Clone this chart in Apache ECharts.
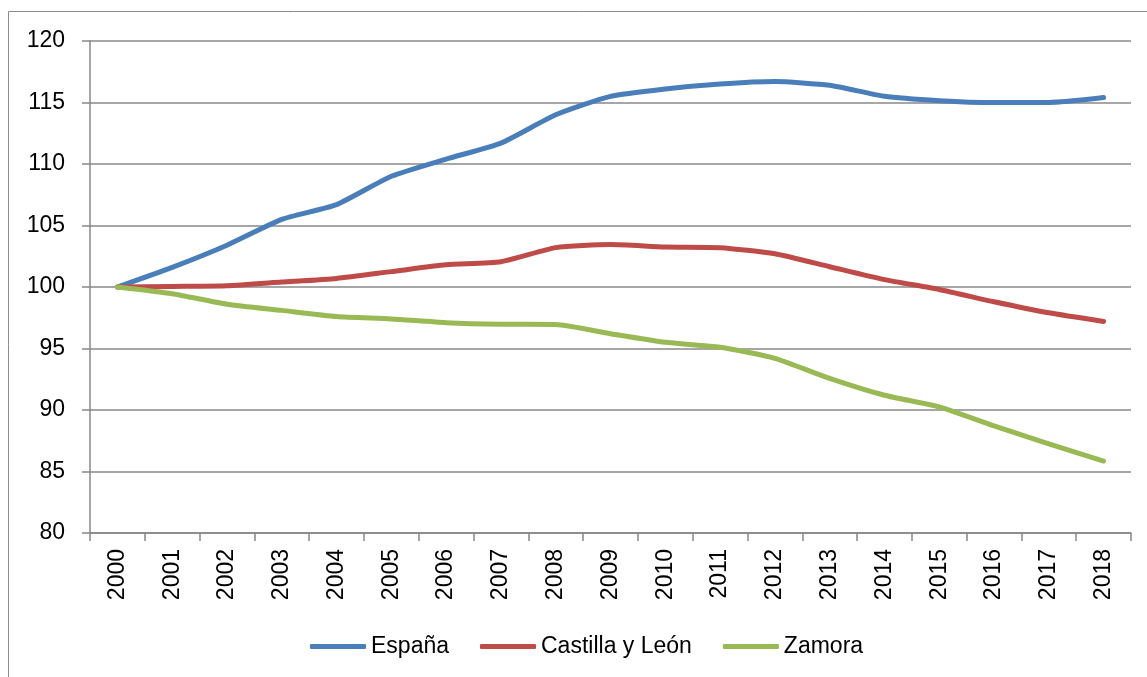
<!DOCTYPE html>
<html>
<head>
<meta charset="utf-8">
<script src="https://cdn.jsdelivr.net/npm/echarts@6/dist/echarts.min.js"></script>
<style>html,body{margin:0;padding:0;background:#fff;}#c{width:1147px;height:677px;}</style>
</head>
<body>
<div id="c"></div>
<script>
const years = ['2000','2001','2002','2003','2004','2005','2006','2007','2008','2009','2010','2011','2012','2013','2014','2015','2016','2017','2018'];
const espana = [100, 101.6, 103.4, 105.5, 106.7, 109.0, 110.4, 111.7, 114.0, 115.5, 116.1, 116.5, 116.7, 116.4, 115.5, 115.15, 115.0, 115.0, 115.4];
const castilla = [100, 100.05, 100.1, 100.4, 100.7, 101.25, 101.8, 102.05, 103.2, 103.45, 103.25, 103.2, 102.7, 101.65, 100.6, 99.8, 98.8, 97.9, 97.2];
const zamora = [100, 99.45, 98.6, 98.1, 97.6, 97.4, 97.1, 96.97, 96.95, 96.2, 95.5, 95.1, 94.2, 92.57, 91.2, 90.25, 88.7, 87.25, 85.85];
const yTicks = {min: 80, max: 120, step: 5};
const seriesNames = ['España', 'Castilla y León', 'Zamora'];
const colors = ['#4A7EBB', '#BE4B48', '#98B954'];

const font = 'Liberation Sans, Arial, sans-serif';
const chart = echarts.init(document.getElementById('c'));
const mk = (name, data, color) => ({
  name, type: 'line', data, smooth: 0.2, symbol: 'none',
  lineStyle: {color, width: 5, cap: 'round', join: 'round'}, itemStyle: {color}
});
chart.setOption({
  animation: false,
  color: colors,
  graphic: [{type: 'rect', shape: {x: 8.5, y: 11.5, width: 1200, height: 700}, style: {fill: 'none', stroke: '#8c8c8c', lineWidth: 1}, silent: true}],
  grid: {left: 90, top: 41, right: 16, bottom: 144},
  legend: {
    data: seriesNames, top: 630, left: 305, icon: 'roundRect', itemWidth: 56, itemHeight: 5, itemGap: 31,
    textStyle: {fontFamily: font, fontSize: 23, color: '#000'}
  },
  xAxis: {
    type: 'category', data: years, boundaryGap: true,
    axisLine: {lineStyle: {color: '#888', width: 1.5}},
    axisTick: {show: true, length: 8, lineStyle: {color: '#888', width: 1.5}},
    axisLabel: {rotate: 90, margin: 16, fontFamily: font, fontSize: 23, color: '#000', interval: 0}
  },
  yAxis: {
    type: 'value', min: yTicks.min, max: yTicks.max, interval: yTicks.step,
    axisLine: {show: true, lineStyle: {color: '#888', width: 1.5}},
    axisTick: {show: true, length: 8, lineStyle: {color: '#888', width: 1.5}},
    axisLabel: {margin: 25, fontFamily: font, fontSize: 23, color: '#000'},
    splitLine: {lineStyle: {color: '#888', width: 1.5}}
  },
  series: [mk(seriesNames[0], espana, colors[0]), mk(seriesNames[1], castilla, colors[1]), mk(seriesNames[2], zamora, colors[2])]
});
</script>
</body>
</html>
